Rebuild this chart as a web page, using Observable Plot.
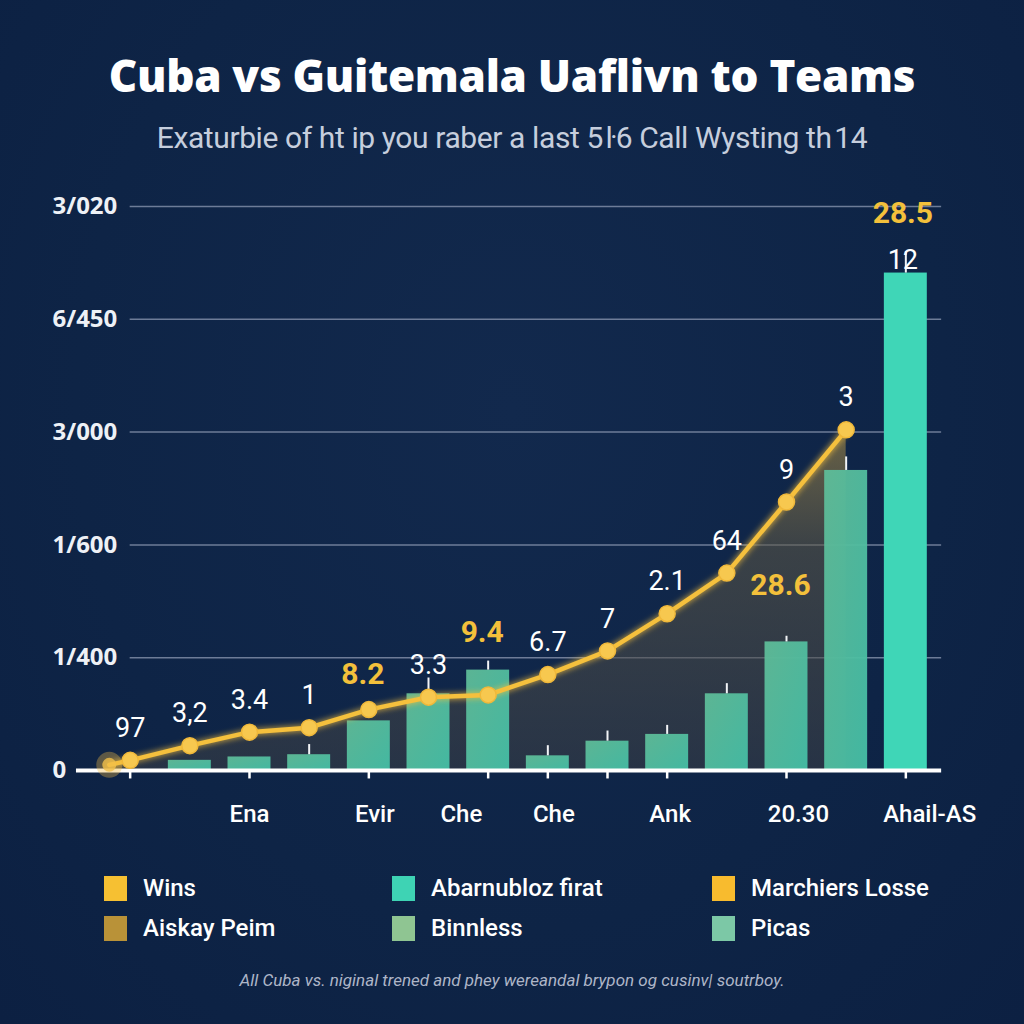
<!DOCTYPE html>
<html>
<head>
<meta charset="utf-8">
<script src="https://cdn.jsdelivr.net/npm/d3@7"></script>
<script src="https://cdn.jsdelivr.net/npm/@observablehq/plot@0.6"></script>
<style>
  html, body { margin: 0; padding: 0; }
  body { width: 1024px; height: 1024px; overflow: hidden; position: relative;
         background: radial-gradient(ellipse at 50% 40%, #12294d 0%, #0e2446 60%, #0c2042 100%);
         font-family: Roboto, "Open Sans", sans-serif; }
  #title { position: absolute; top: 48px; left: 0; width: 1024px; text-align: center;
           color: #ffffff; font: 800 44px "Open Sans", sans-serif; line-height: 54px; letter-spacing: -0.3px; }
  #subtitle { position: absolute; top: 119px; left: 0; width: 1024px; text-align: center;
              color: #c6cedd; font: 400 30px Roboto, sans-serif; line-height: 38px; letter-spacing: -0.4px; }
  #chart { position: absolute; top: 160px; left: 0; }
  .lg { position: absolute; display: flex; align-items: center; color: #ffffff;
        font: 500 24px Roboto, sans-serif; height: 30px; }
  .lg span.sw { width: 23px; height: 25px; display: inline-block; margin-right: 16px; }
  #caption { position: absolute; top: 968px; left: 0; width: 1024px; text-align: center;
             color: #aeb6c8; font: italic 400 17px Roboto, sans-serif; line-height: 24px; }
</style>
</head>
<body>
<div id="title"></div>
<div id="subtitle"></div>
<div id="chart"></div>
<div id="legend"></div>
<div id="caption"></div>
<script>
// ---------- data ----------
const titleText = "Cuba vs Guitemala Uaflivn to Teams";
const subtitleText = "Exaturbie of ht ip you raber a last 5\u200a\u01406 Call Wysting th\u200a14";
const captionText = "All Cuba vs. niginal trened and phey wereandal brypon og cusinv| soutrboy.";

const barIndex  = [1, 2, 3, 4, 5, 6, 7, 8, 9, 10, 11, 12, 13];
const barValues = [0.09, 0.12, 0.14, 0.44, 0.68, 0.89, 0.13, 0.26, 0.32, 0.68, 1.14, 2.66, 4.41];
const barErr    = [0, 0, 0.09, 0, 0.14, 0.08, 0.09, 0.09, 0.08, 0.09, 0.05, 0.12, 0.19];

const lineIndex  = [-0.35, 0, 1, 2, 3, 4, 5, 6, 7, 8, 9, 10, 11, 12];
const lineValues = [0.05, 0.09, 0.22, 0.34, 0.38, 0.54, 0.65, 0.67, 0.85, 1.06, 1.39, 1.75, 2.38, 3.02];
const lineLabels = ["", "97", "3,2", "3.4", "1", "", "3.3", "", "6.7", "7", "2.1", "64", "9", "3"];

const goldNoteText  = ["8.2", "9.4", "28.6", "28.5"];
const goldNoteIndex = [3.9, 5.9, 10.9, 12.95];
const goldNoteValue = [0.85, 1.22, 1.64, 4.94];
const whiteNoteText  = ["12"];
const whiteNoteIndex = [12.95];
const whiteNoteValue = [4.52];

const xLabelText = ["Ena", "Evir", "Che", "Che", "Ank", "20.30", "Ahail-AS"];
const xLabelAt   = [2, 4.1, 5.55, 7.1, 9.05, 11.2, 13.4];
const xTickAt    = [0, 2, 4, 6, 7, 8, 9, 11, 13];

const yTickValues = [0, 1, 2, 3, 4, 5];
const yTickLabels = ["0", "1/400", "1/600", "3/000", "6/450", "3/020"];

const legendLabels = ["Wins", "Abarnubloz firat", "Marchiers Losse", "Aiskay Peim", "Binnless", "Picas"];
const legendColors = ["#f6c032", "#3ed3b4", "#f8bb2e", "#b99238", "#8fc592", "#7cc8a6"];

// ---------- tables ----------
const bars = barIndex.map((i, k) => ({i, v: barValues[k], e: barErr[k], last: k === barIndex.length - 1}));
const pts = lineIndex.map((i, k) => ({i, v: lineValues[k], label: lineLabels[k], ghost: k === 0}));
const goldNotes = goldNoteText.map((t, k) => ({t, i: goldNoteIndex[k], v: goldNoteValue[k]}));
const whiteNotes = whiteNoteText.map((t, k) => ({t, i: whiteNoteIndex[k], v: whiteNoteValue[k]}));
const xLabels = xLabelText.map((t, k) => ({t, i: xLabelAt[k]}));
const yTicks = yTickValues.map((v, k) => ({v, t: yTickLabels[k]}));

document.getElementById("title").textContent = titleText;
document.getElementById("subtitle").textContent = subtitleText;
document.getElementById("caption").textContent = captionText;

const gridX1 = 0, gridX2 = 13.6, axisX1 = -0.9;

const plot = Plot.plot({
  width: 1024,
  height: 680,
  marginLeft: 70,
  marginRight: 59,
  marginTop: 46,
  marginBottom: 70,
  style: {background: "transparent", overflow: "visible"},
  x: {domain: [-1, 14], axis: null},
  y: {domain: [0, 5], axis: null},
  marks: [
    Plot.ruleY(yTicks.filter(d => d.v > 0), {y: "v", x1: gridX1, x2: gridX2, stroke: "#8d9ab3", strokeWidth: 1.5, strokeOpacity: 0.75}),
    Plot.areaY(pts, {x: "i", y: "v", fill: "url(#areaGrad)"}),
    Plot.rectY(bars, {filter: d => !d.last, x1: d => d.i - 0.36, x2: d => d.i + 0.36, y1: 0, y2: "v", fill: "url(#barGrad)", fillOpacity: 0.95}),
    Plot.rectY(bars, {filter: d => d.last, x1: d => d.i - 0.36, x2: d => d.i + 0.36, y1: 0, y2: "v", fill: "#3fd6b7"}),
    Plot.ruleX(bars, {filter: d => d.e > 0, x: "i", y1: "v", y2: d => d.v + d.e, stroke: "#f2f4f7", strokeWidth: 2}),
    Plot.ruleY([0], {x1: axisX1, x2: gridX2, stroke: "#ffffff", strokeWidth: 4}),
    Plot.ruleX(xTickAt, {x: d => d, y1: 0, y2: -0.075, stroke: "#ffffff", strokeWidth: 2.5}),
    Plot.line(pts, {x: "i", y: "v", stroke: "#f5c03c", strokeWidth: 4.5, strokeLinejoin: "round"}),
    Plot.dot(pts, {filter: d => d.ghost, x: "i", y: "v", r: 13, fill: "#f3bd45", fillOpacity: 0.35}),
    Plot.dot(pts, {filter: d => d.ghost, x: "i", y: "v", r: 7, fill: "#f3c04a", fillOpacity: 0.8}),
    Plot.dot(pts, {filter: d => !d.ghost, x: "i", y: "v", r: 8, fill: "#f7c84f", stroke: "#f0b83a", strokeWidth: 1.5}),
    Plot.text(pts, {x: "i", y: "v", text: "label", dy: -32, fill: "#ffffff", fontSize: 27, fontFamily: "Roboto"}),
    Plot.text(goldNotes, {x: "i", y: "v", text: "t", fill: "#f3c03b", fontSize: 30, fontWeight: 700, fontFamily: "Roboto"}),
    Plot.text(whiteNotes, {x: "i", y: "v", text: "t", fill: "#ffffff", fontSize: 27, fontFamily: "Roboto"}),
    Plot.text(yTicks, {y: "v", text: "t", frameAnchor: "left", textAnchor: "start", dx: -18, fill: "#eef1f6", fontSize: 24, fontWeight: 700, fontFamily: "Open Sans"}),
    Plot.text(xLabels, {x: "i", y: 0, text: "t", dy: 44, fill: "#ffffff", fontSize: 24, fontWeight: 500, fontFamily: "Roboto"})
  ]
});

const svg = d3.select(plot);
svg.insert("defs", ":first-child").html(`
  <linearGradient id="areaGrad" x1="0" y1="0" x2="0" y2="1">
    <stop offset="0%" stop-color="#a88c45" stop-opacity="0.6"/>
    <stop offset="35%" stop-color="#5e5845" stop-opacity="0.55"/>
    <stop offset="100%" stop-color="#3b3f45" stop-opacity="0.55"/>
  </linearGradient>
  <linearGradient id="barGrad" x1="0" y1="0" x2="1" y2="1">
    <stop offset="0%" stop-color="#5fbc98"/>
    <stop offset="100%" stop-color="#45bfa6"/>
  </linearGradient>
  <filter id="glow" x="-20%" y="-20%" width="140%" height="140%">
    <feGaussianBlur stdDeviation="3" result="b"/>
    <feMerge><feMergeNode in="b"/><feMergeNode in="SourceGraphic"/></feMerge>
  </filter>
`);
svg.selectAll('g[aria-label="line"] path').attr("filter", "url(#glow)");
document.getElementById("chart").appendChild(plot);

// ---------- legend ----------
const legendCols = [104, 392, 712];
const legendRows = [873, 913];
const lg = document.getElementById("legend");
legendLabels.forEach((t, k) => {
  const d = document.createElement("div");
  d.className = "lg";
  d.style.left = legendCols[k % 3] + "px";
  d.style.top = legendRows[Math.floor(k / 3)] + "px";
  const s = document.createElement("span");
  s.className = "sw";
  s.style.background = legendColors[k];
  d.appendChild(s);
  d.appendChild(document.createTextNode(t));
  lg.appendChild(d);
});
</script>
</body>
</html>
